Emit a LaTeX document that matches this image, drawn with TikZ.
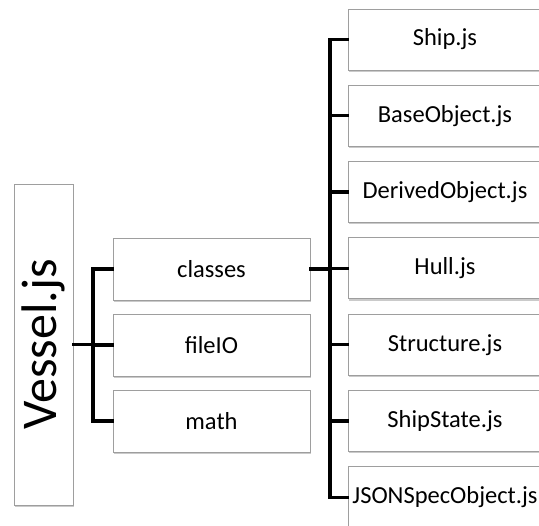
\documentclass[tikz,border=0pt]{standalone}
\usepackage{fontspec}
\setmainfont{Carlito}
\usetikzlibrary{shadows}
\begin{document}
\begin{tikzpicture}[x=1pt,y=-1pt,
  box/.style={draw=black!38, fill=white, line width=0.9pt, inner sep=0pt,
    drop shadow={shadow xshift=0.8pt, shadow yshift=-1.8pt, opacity=0.35, fill=black!60}},
  lbl/.style={font=\fontsize{24.5}{27}\selectfont, inner sep=0pt},
  conn/.style={line width=3.4pt, line cap=rect}]
\useasboundingbox (0,0) rectangle (539,526);
\clip (0,0) rectangle (539,526);
% root
\node[box, minimum width=59pt, minimum height=321pt] (vessel) at (43.5,344.5) {};
\node[font=\fontsize{50}{56}\selectfont, rotate=90, inner sep=0pt] at (vessel.center) {Vessel.js};
% middle
\foreach \n/\t/\y in {classes/classes/269, fileio/fileIO/345, math/math/421}{
  \node[box, minimum width=197pt, minimum height=62pt] (\n) at (211.5,\y) {};
  \node[lbl] at (\n.center) {\t};
}
% right
\foreach \n/\t/\i in {ship/Ship.js/0, base/BaseObject.js/1, derived/DerivedObject.js/2, hull/Hull.js/3, structure/Structure.js/4, shipstate/ShipState.js/5, json/JSONSpecObject.js/6}{
  \pgfmathsetmacro{\yy}{39.5+76.3*\i}
  \node[box, minimum width=194pt, minimum height=61pt] (\n) at (445,\yy) {};
  \node[lbl] at (445,\yy) {\t};
}
% connectors left
\coordinate (lt) at (93,269);
\coordinate (lb) at (93,421);
\draw[conn] (vessel.east) -- (vessel.east -| lt);
\draw[conn] (classes.west) -- (classes.west -| lt) -- (math.west -| lt) -- (math.west);
\draw[conn] (fileio.west) -- (fileio.west -| lt);
% connectors right
\coordinate (rt) at (330,0);
\draw[conn] (ship.west) -- (ship.west -| rt) -- (json.west -| rt) -- (json.west);
\draw[conn] (classes.east) -- (classes.east -| rt);
\foreach \n in {base, derived, hull, structure, shipstate}{
  \draw[conn] (\n.west) -- (\n.west -| rt);
}
\end{tikzpicture}
\end{document}
